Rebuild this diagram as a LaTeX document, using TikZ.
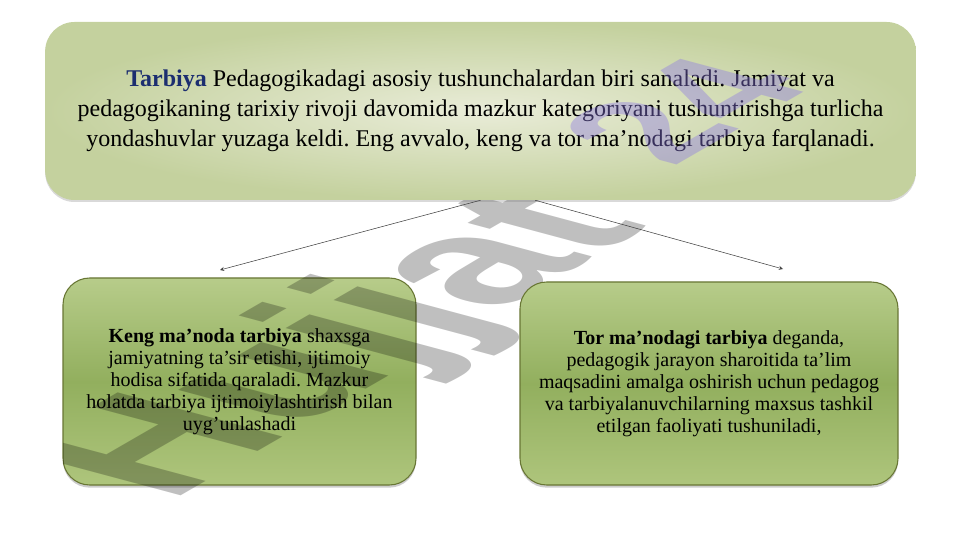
\documentclass[tikz,border=0pt]{standalone}
\usepackage{fontspec}
\setmainfont{Liberation Serif}
\newfontfamily\wmfont{Liberation Sans}
\usetikzlibrary{shadows}
\frenchspacing
\definecolor{topin}{RGB}{233,236,216}
\definecolor{topout}{RGB}{196,209,158}
\definecolor{boxtop}{RGB}{183,204,138}
\definecolor{boxmid}{RGB}{146,175,94}
\definecolor{boxbot}{RGB}{174,197,124}
\definecolor{boxline}{RGB}{104,118,52}
\definecolor{navy}{RGB}{28,46,112}
\definecolor{wmpurple}{RGB}{140,120,228}
\tikzset{
  mainbox/.style={rounded corners=22pt, inner color=topin, outer color=topout,
    drop shadow={shadow xshift=0pt, shadow yshift=-1.5pt, opacity=0.3},
    minimum width=653pt, minimum height=133.5pt, align=center,
    font=\fontsize{18}{22.5}\selectfont},
  subbox/.style={rounded corners=20pt, draw=boxline, line width=0.8pt,
    top color=boxtop, bottom color=boxbot, middle color=boxmid,
    drop shadow={shadow xshift=0pt, shadow yshift=-2pt, opacity=0.4},
    align=center, font=\fontsize{15}{16.5}\selectfont},
  link/.style={->, >=stealth, thin, black!75},
  wmark/.style={transform shape, anchor=base west, inner sep=0pt,
    font=\wmfont\bfseries\fontsize{150}{150}\selectfont}
}
\begin{document}
\begin{tikzpicture}[x=0.75pt, y=0.75pt]
  \useasboundingbox (0,0) rectangle (961,540);
  % keng ma'nodagi tarbiya
  \node[subbox, minimum width=264.75pt, minimum height=155.25pt] (keng) at (239.5,158.5)
    {\textbf{Keng ma’noda tarbiya} shaxsga\\jamiyatning ta’sir etishi, ijtimoiy\\hodisa sifatida qaraladi. Mazkur\\holatda tarbiya ijtimoiylashtirish bilan\\uyg’unlashadi};
  % watermark
  \begin{scope}
    \clip (63,0) rectangle (961,540);
    \node[wmark, text=black, text opacity=0.25, cm={0.866,0.5,-1.198,0.321,(169,37)}] (hujjat) at (0,0) {Hujjat};
  \end{scope}
  % tarbiya
  \node[mainbox] (tarbiya) at (480.5,429)
    {\textcolor{navy}{\textbf{Tarbiya}} Pedagogikadagi asosiy tushunchalardan biri sanaladi. Jamiyat va\\pedagogikaning tarixiy rivoji davomida mazkur kategoriyani tushuntirishga turlicha\\yondashuvlar yuzaga keldi. Eng avvalo, keng va tor ma’nodagi tarbiya farqlanadi.};
  % tor ma'nodagi tarbiya
  \node[subbox, minimum width=283.5pt, minimum height=152.25pt] (tor) at (709,156.5)
    {\textbf{Tor ma’nodagi tarbiya} deganda,\\pedagogik jarayon sharoitida ta’lim\\maqsadini amalga oshirish uchun pedagog\\va tarbiyalanuvchilarning maxsus tashkil\\etilgan faoliyati tushuniladi,};
  \node[wmark, text=wmpurple, text opacity=0.4, font=\wmfont\bfseries\fontsize{112}{112}\selectfont,
    cm={0.866,0.5,-1.198,0.321,(672,372)}] (raqam) at (0,0) {24};
  % arrows
  \coordinate (kengend) at (220,270);
  \coordinate (torend) at (783,271);
  \draw[link] (tarbiya.south) -- (kengend);
  \draw[link] ([xshift=41pt]tarbiya.south) -- (torend);
\end{tikzpicture}
\end{document}
